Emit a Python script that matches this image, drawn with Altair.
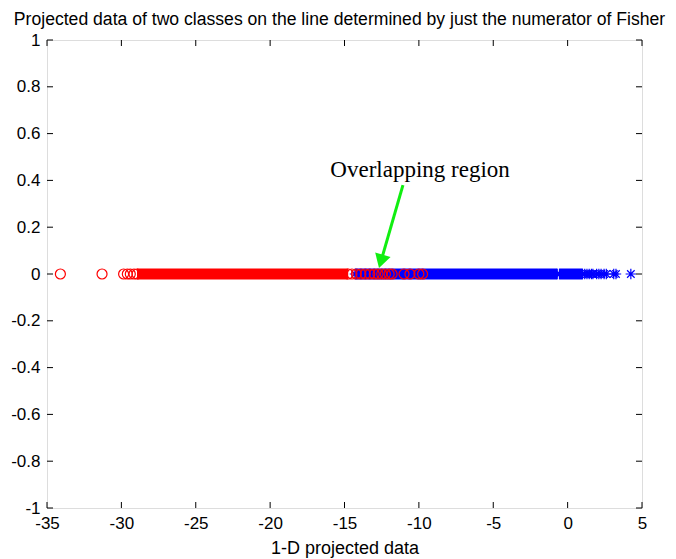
import altair as alt
import pandas as pd

# ---------------- data ----------------
# class 1 (red circles): individually distinguishable points
red_points = [-34.1, -31.3, -29.85, -29.6, -29.4, -29.15, -28.95,
              -14.75, -14.5, -14.2, -13.9, -13.6, -13.3, -13.0, -12.75,
              -12.5, -12.25, -12.0, -11.8, -11.0, -10.6, -10.0, -9.75]
# class 1 dense runs (points overlap into a solid band): start, end
red_band_start = [-28.95]
red_band_end = [-14.75]

# class 2 (blue stars): individually distinguishable points
blue_points = [-14.3, -0.7, -0.55, 1.0, 1.15, 1.3, 1.45, 1.6, 1.7,
               1.95, 2.1, 2.25, 2.45, 2.6, 3.1, 3.25, 4.25]
# class 2 dense runs: start, end
blue_band_start = [-14.3, -0.55]
blue_band_end = [-0.7, 1.0]

x_ticks = [-35, -30, -25, -20, -15, -10, -5, 0, 5]
y_ticks = [-1, -0.8, -0.6, -0.4, -0.2, 0, 0.2, 0.4, 0.6, 0.8, 1]

title_text = "Projected data of two classes on the line determined by just the numerator of Fisher"
x_title = "1-D projected data"
note_text = "Overlapping region"
note_pos = [-9.92, 0.415]          # text anchor (x, y) in data units
arrow_start = [-11.07, 0.38]
arrow_head = [-12.55, 0.054]

# ---------------- layout ----------------
W, H = 595, 468
TICK = 6
FONT = "Liberation Sans"

xs = alt.Scale(domain=[-35, 5], nice=False, zero=False)
ys = alt.Scale(domain=[-1, 1], nice=False, zero=False)
x_axis = alt.Axis(values=x_ticks, ticks=False, tickSize=0, domain=False, grid=False,
                  labelFont=FONT, labelFontSize=17, labelColor="black", labelPadding=7,
                  labelExpr="'' + datum.value", labelFlush=False, labelOverlap=False,
                  title=x_title, titleFont=FONT, titleFontSize=18, titleFontWeight="normal",
                  titleColor="black", titlePadding=8)
y_axis = alt.Axis(values=y_ticks, ticks=False, tickSize=0, domain=False, grid=False,
                  labelFont=FONT, labelFontSize=17, labelColor="black", labelPadding=7,
                  labelExpr="'' + datum.value", labelFlush=False, labelOverlap=False,
                  title=None)

X = lambda f: alt.X(f, type="quantitative", scale=xs, axis=x_axis)
Y = lambda f: alt.Y(f, type="quantitative", scale=ys, axis=y_axis)

red_df = pd.DataFrame({"x": red_points, "y": [0] * len(red_points)})
blue_df = pd.DataFrame({"x": blue_points, "y": [0] * len(blue_points)})
red_bands = pd.DataFrame({"x": red_band_start, "x2": red_band_end, "y": [0] * len(red_band_start)})
blue_bands = pd.DataFrame({"x": blue_band_start, "x2": blue_band_end, "y": [0] * len(blue_band_start)})
xt_df = pd.DataFrame({"x": x_ticks})
yt_df = pd.DataFrame({"y": y_ticks})

star = "M-1,0L1,0M0,-1L0,1M-0.72,-0.72L0.72,0.72M-0.72,0.72L0.72,-0.72"

blue_band_l = alt.Chart(blue_bands).mark_rule(
    color="#0000ff", strokeWidth=11, strokeCap="butt").encode(x=X("x"), x2="x2", y=Y("y"))
blue_pts = alt.Chart(blue_df).mark_point(
    shape=star, size=110, color="#0000ff", strokeWidth=1.2, filled=False, opacity=1
).encode(x=X("x"), y=Y("y"))
red_band_l = alt.Chart(red_bands).mark_rule(
    color="#ff0000", strokeWidth=11, strokeCap="butt").encode(x=X("x"), x2="x2", y=Y("y"))
red_pts = alt.Chart(red_df).mark_point(
    shape="circle", size=100, color="#ff0000", strokeWidth=1.2, filled=False, opacity=1
).encode(x=X("x"), y=Y("y"))

# inward ticks on all four sides
xt_bottom = alt.Chart(xt_df).mark_rule(color="black", strokeWidth=1).encode(
    x=X("x"), y=alt.value(H), y2=alt.value(H - TICK))
xt_top = alt.Chart(xt_df).mark_rule(color="black", strokeWidth=1).encode(
    x=X("x"), y=alt.value(0), y2=alt.value(TICK))
yt_left = alt.Chart(yt_df).mark_rule(color="black", strokeWidth=1).encode(
    y=Y("y"), x=alt.value(0), x2=alt.value(TICK))
yt_right = alt.Chart(yt_df).mark_rule(color="black", strokeWidth=1).encode(
    y=Y("y"), x=alt.value(W), x2=alt.value(W - TICK))

# annotation
note_df = pd.DataFrame({"x": [note_pos[0]], "y": [note_pos[1]], "t": [note_text]})
note = alt.Chart(note_df).mark_text(
    font="Liberation Serif", fontSize=23, color="black", align="center", baseline="alphabetic"
).encode(x=X("x"), y=Y("y"), text="t:N")
arrow_df = pd.DataFrame({"x": [arrow_start[0]], "y": [arrow_start[1]],
                         "x2": [arrow_head[0]], "y2": [arrow_head[1]]})
arrow_line = alt.Chart(arrow_df).mark_rule(color="#11ee11", strokeWidth=3).encode(
    x=X("x"), y=Y("y"), x2="x2", y2="y2")
head_df = pd.DataFrame({"x": [arrow_head[0]], "y": [arrow_head[1]]})
arrow_tip = alt.Chart(head_df).mark_point(
    shape="triangle-down", size=256, angle=16, filled=True, color="#11ee11", opacity=1
).encode(x=X("x"), y=Y("y"))

chart = alt.layer(
    blue_band_l, blue_pts, red_band_l, red_pts,
    xt_bottom, xt_top, yt_left, yt_right,
    arrow_line, arrow_tip, note
).properties(
    width=W, height=H,
    title=alt.TitleParams(title_text, font=FONT, fontSize=17.6, fontWeight="normal",
                          color="black", anchor="middle", baseline="alphabetic",
                          offset=14, dy=26, dx=-5),
    autosize="none",
    padding={"left": 47, "top": 40, "right": 34, "bottom": 51},
).configure_view(stroke="black", strokeWidth=1).configure(background="white")

chart.save("out.html", embed_options={"renderer": "svg", "actions": False})
